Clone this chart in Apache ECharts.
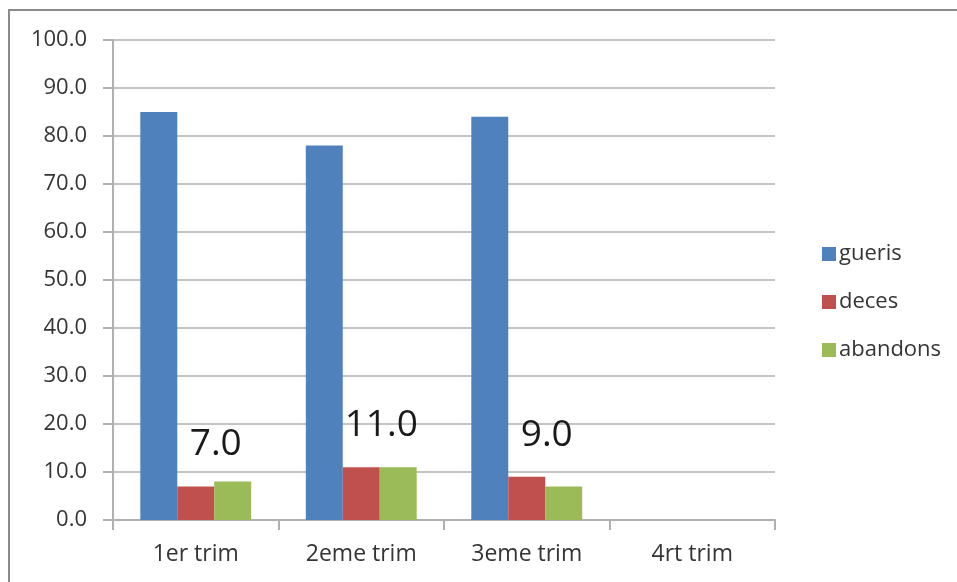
<!DOCTYPE html>
<html>
<head>
<meta charset="utf-8">
<script src="https://cdn.jsdelivr.net/npm/echarts@6/dist/echarts.min.js"></script>
<style>
  html, body { margin: 0; padding: 0; background: #fff; }
  #chart { width: 957px; height: 582px; }
</style>
</head>
<body>
<div id="chart"></div>
<script>
// Quarterly outcomes
const categories = ['1er trim', '2eme trim', '3eme trim', '4rt trim'];
const gueris = [85, 78, 84, null];
const deces = [7, 11, 9, null];
const abandons = [8, 11, 7, null];
const yTicks = { min: 0, max: 100, interval: 10 };

const FONT = '"Open Sans", "Liberation Sans", sans-serif';
const TEXT = '#353535';
const AXIS = '#b0b0b0';

const chart = echarts.init(document.getElementById('chart'), null, { renderer: 'canvas' });

chart.setOption({
  animation: false,
  backgroundColor: '#ffffff',
  textStyle: { fontFamily: FONT },
  graphic: [{
    type: 'rect',
    shape: { x: 9, y: 10, width: 1000, height: 700 },
    style: { fill: 'none', stroke: '#8a8a8a', lineWidth: 2 },
    silent: true
  }],
  grid: { left: 113, right: 182, top: 40, bottom: 62 },
  legend: {
    orient: 'vertical',
    left: 817,
    top: 238,
    itemWidth: 14,
    itemHeight: 14,
    itemGap: 26,
    icon: 'rect',
    textStyle: { fontFamily: FONT, fontSize: 22, color: TEXT, padding: [0, 0, 0, -2] },
    data: ['gueris', 'deces', 'abandons']
  },
  xAxis: {
    type: 'category',
    data: categories,
    axisLine: { show: true, lineStyle: { color: AXIS, width: 2 } },
    axisTick: { show: true, length: 10, lineStyle: { color: AXIS, width: 2 } },
    axisLabel: { color: TEXT, fontFamily: FONT, fontSize: 23, margin: 23 }
  },
  yAxis: {
    type: 'value',
    min: yTicks.min,
    max: yTicks.max,
    interval: yTicks.interval,
    axisLine: { show: true, lineStyle: { color: AXIS, width: 2 } },
    axisTick: { show: true, length: 10, lineStyle: { color: AXIS, width: 2 } },
    splitLine: { show: true, lineStyle: { color: '#c4c4c4', width: 2 } },
    axisLabel: {
      color: TEXT, fontFamily: FONT, fontSize: 22, margin: 26,
      formatter: v => v.toFixed(1)
    }
  },
  series: [
    {
      name: 'gueris', type: 'bar', data: gueris,
      barGap: '0%', barCategoryGap: '33%',
      itemStyle: { color: '#4F81BD' }
    },
    {
      name: 'deces', type: 'bar', data: deces,
      itemStyle: { color: '#C0504D' },
      label: {
        show: true, position: 'top', distance: 5, offset: [20, -18],
        fontFamily: FONT, fontSize: 37, color: '#1a1a1a',
        formatter: p => p.value.toFixed(1)
      }
    },
    {
      name: 'abandons', type: 'bar', data: abandons,
      itemStyle: { color: '#9BBB59' }
    }
  ]
});
</script>
</body>
</html>
